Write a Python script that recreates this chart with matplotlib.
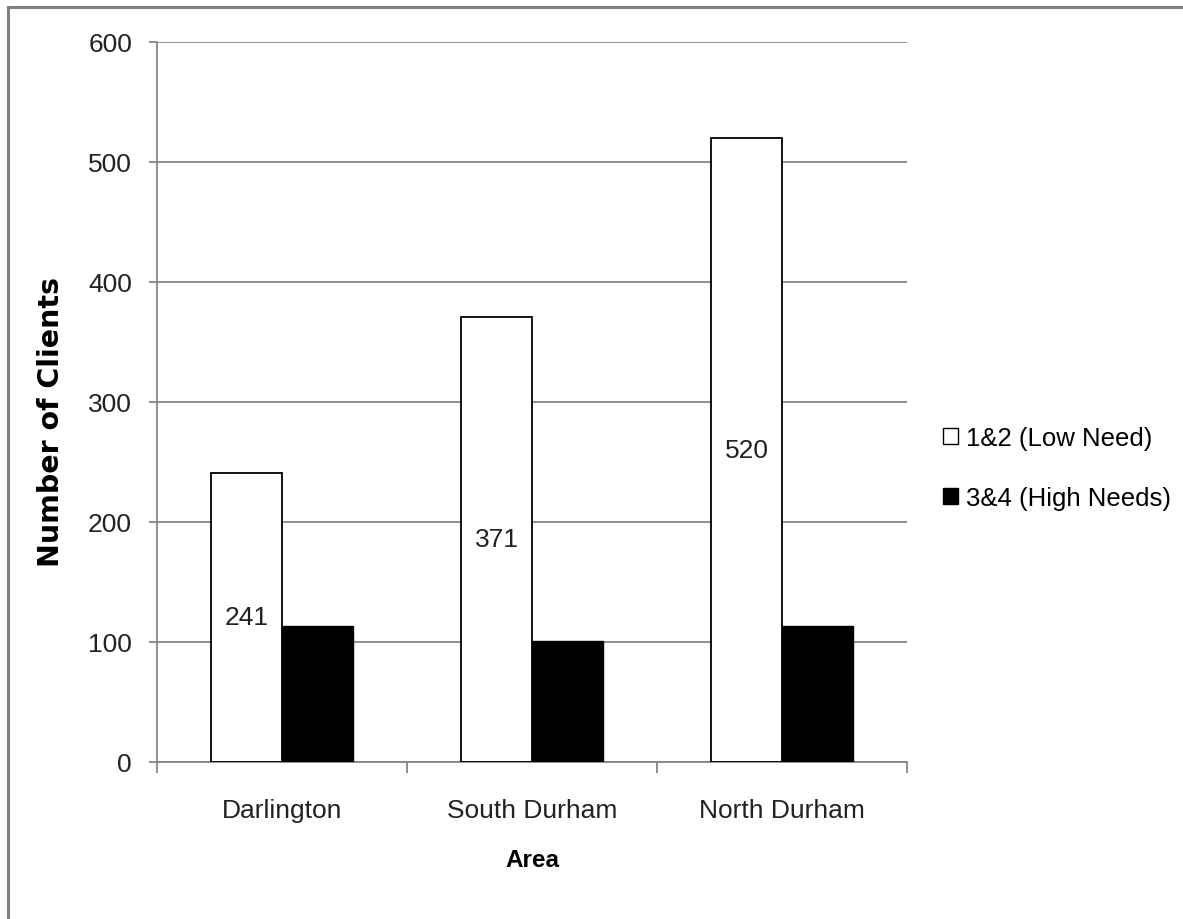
import matplotlib
matplotlib.use("Agg")
import numpy as np
import matplotlib.pyplot as plt
import matplotlib.font_manager as fm
from matplotlib.lines import Line2D
from matplotlib.patches import Patch

# Data
areas = ["Darlington", "South Durham", "North Durham"]
low_need = [241, 371, 520]
high_needs = [113, 101, 113]
series_names = ["1&2 (Low Need)", "3&4 (High Needs)"]
y_ticks = [0, 100, 200, 300, 400, 500, 600]

GRID = "#868686"
TXT = "#222222"
FS = 19


def narrow_font(size, bold=False):
    # Liberation Sans Narrow looks closest to the Calibri used in the original
    key = "LiberationSansNarrow-Bold" if bold else "LiberationSansNarrow-Regular"
    paths = [p for p in fm.findSystemFonts() if key in p]
    if paths:
        return fm.FontProperties(fname=paths[0], size=size)
    return fm.FontProperties(family="Liberation Sans", stretch="condensed",
                             weight="bold" if bold else "normal", size=size)


fig = plt.figure(figsize=(11.83, 9.2), dpi=100)
ax = fig.add_axes([157 / 1183, 1 - 763 / 920, 750 / 1183, 720 / 920])

x = np.arange(len(areas))
w = 0.284

ax.bar(x - w / 2, low_need, w, color="white", edgecolor="black", linewidth=1.3, zorder=3)
ax.bar(x + w / 2, high_needs, w, color="black", edgecolor="black", linewidth=1.0, zorder=3)

# value labels sit in the middle of the white bars
for xi, v in zip(x, low_need):
    ax.text(xi - w / 2, v / 2, str(v), ha="center", va="center",
            fontproperties=narrow_font(FS), color=TXT, zorder=4)

ax.set_xlim(-0.5, len(areas) - 0.5)
ax.set_ylim(0, 600)
ax.set_yticks(y_ticks)
ax.yaxis.grid(True, color=GRID, linewidth=1.3, zorder=0)
ax.set_axisbelow(True)

for s in ["top", "right"]:
    ax.spines[s].set_visible(False)
for s in ["left", "bottom"]:
    ax.spines[s].set_color(GRID)
    ax.spines[s].set_linewidth(1.3)

ax.set_xticks(x)
ax.set_xticklabels(areas)
ax.set_xticks(np.arange(-0.5, len(areas)), minor=True)
ax.tick_params(axis="x", which="major", length=0, pad=26, labelcolor=TXT)
ax.tick_params(axis="x", which="minor", length=8, width=1.3, color=GRID, direction="out")
ax.tick_params(axis="y", length=6, width=1.3, color=GRID, pad=12, labelcolor=TXT)
for lab in ax.get_xticklabels() + ax.get_yticklabels():
    lab.set_fontproperties(narrow_font(FS))

ax.set_ylabel("Number of Clients", family="DejaVu Sans", fontweight="bold", fontsize=20.5)
ax.yaxis.set_label_coords(-0.1227, 0.474)
ax.set_xlabel("Area", fontproperties=narrow_font(17.5, bold=True))
ax.xaxis.set_label_coords(0.5, -0.12)

handles = [Patch(facecolor="white", edgecolor="black", linewidth=1.0),
           Patch(facecolor="black", edgecolor="black", linewidth=1.0)]
fig.legend(handles, series_names, loc="center left", bbox_to_anchor=(943 / 1183, 1 - 469 / 920),
           frameon=False, prop=narrow_font(18.5), handlelength=0.6, handleheight=0.6,
           handletextpad=0.3, labelspacing=1.4, borderpad=0, borderaxespad=0)

# grey frame at the top and left edges of the picture
fig.add_artist(Line2D([8 / 1183, 1], [1 - 8 / 920, 1 - 8 / 920], transform=fig.transFigure,
                      color="#808080", linewidth=2.2))
fig.add_artist(Line2D([8 / 1183, 8 / 1183], [0, 1 - 8 / 920], transform=fig.transFigure,
                      color="#808080", linewidth=2.2))

fig.savefig("out.png", dpi=100, facecolor="white")
